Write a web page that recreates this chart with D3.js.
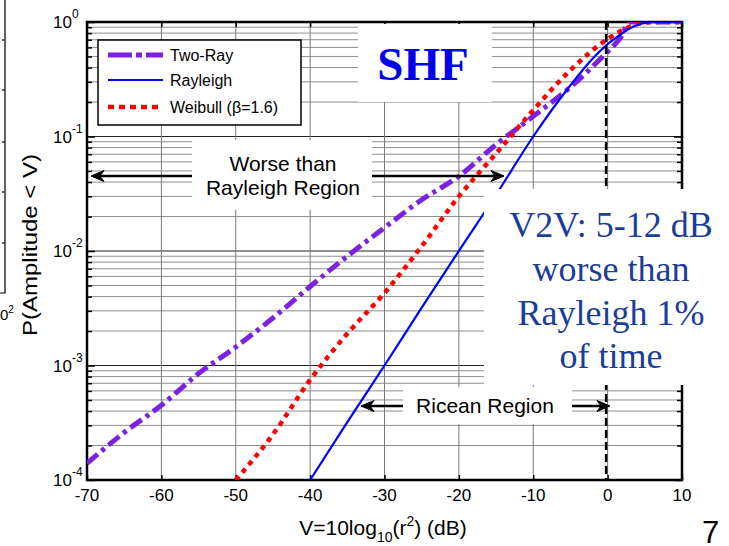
<!DOCTYPE html>
<html>
<head>
<meta charset="utf-8">
<script src="https://cdnjs.cloudflare.com/ajax/libs/d3/7.8.5/d3.min.js"></script>
<style>
  html, body { margin: 0; padding: 0; background: #fff; }
  svg { display: block; font-family: Arial, "Liberation Sans", sans-serif; }
</style>
</head>
<body>
<div id="canvas"></div>
<script>
// ---- DATA ----
var xTicks = [-70, -60, -50, -40, -30, -20, -10, 0, 10];
var yDecades = [1e-4, 1e-3, 1e-2, 1e-1, 1];
var yExponents = ['-4', '-3', '-2', '-1', '0'];

// Two-Ray
var twoV = [-70, -65, -60, -55, -50, -45, -40, -35, -30, -25, -20, -15, -10, -5, 0, 1, 2, 2.6, 3, 10];
var twoP = [1.4e-4, 2.6e-4, 4.5e-4, 8.5e-4, 1.45e-3, 2.6e-3, 4.9e-3, 9e-3, 1.6e-2, 2.8e-2, 4.5e-2, 8.5e-2, 0.15, 0.27, 0.55, 0.64, 0.78, 0.95, 1.0, 1.0];

// Rayleigh
var rayV = [-40, -35, -30, -25, -20, -15, -10, -5, -2, 0, 2, 3, 4, 5, 6, 10];
var rayP = [1e-4, 3.2e-4, 1e-3, 3.2e-3, 1e-2, 3.1e-2, 0.1, 0.28, 0.48, 0.64, 0.8, 0.88, 0.94, 0.98, 0.995, 1.0];

// Weibull (beta = 1.6)
var weiV = [-50, -45, -40, -35, -30, -25, -20, -15, -10, -5, 0, 2, 3, 4, 5, 6, 10];
var weiP = [1e-4, 2.5e-4, 7.5e-4, 1.9e-3, 4.3e-3, 1.1e-2, 3e-2, 7.1e-2, 0.17, 0.38, 0.71, 0.85, 0.91, 0.96, 0.99, 1.0, 1.0];

var seriesNames = ['Two-Ray', 'Rayleigh', 'Weibull (\u03B2=1.6)'];


// ---- CONVENTIONS ----
var W = 729, H = 546;
var pLeft = 87, pRight = 682, pTop = 22, pBottom = 480;

var svg = d3.select('#canvas')
    .append('svg')
    .attr('width', W)
    .attr('height', H);


// ---- SCALES ----
var scaleX = d3.scaleLinear().domain([-70, 10]).range([pLeft, pRight]);
var scaleY = d3.scaleLog().domain([1e-4, 1]).range([pBottom, pTop]);

var minorTicks = [];
yDecades.slice(0, -1).forEach(function(d){
    for (var k = 2; k <= 9; k++) minorTicks.push(d * k);
});


// ---- GRID ----
var grid = svg.append('g');
grid.selectAll('.minor')
    .data(minorTicks).enter()
    .append('line')
    .attr('x1', pLeft).attr('x2', pRight)
    .attr('y1', function(d){ return scaleY(d); })
    .attr('y2', function(d){ return scaleY(d); })
    .style('stroke', '#8e8e8e').style('stroke-width', 1);
grid.selectAll('.major')
    .data(yDecades).enter()
    .append('line')
    .attr('x1', pLeft).attr('x2', pRight)
    .attr('y1', function(d){ return scaleY(d); })
    .attr('y2', function(d){ return scaleY(d); })
    .style('stroke', '#222').style('stroke-width', 1);
grid.selectAll('.vgrid')
    .data(xTicks).enter()
    .append('line')
    .attr('x1', function(d){ return scaleX(d); })
    .attr('x2', function(d){ return scaleX(d); })
    .attr('y1', pTop).attr('y2', pBottom)
    .style('stroke', '#7a7a7a').style('stroke-width', 1);


// ---- AXES ----
var axisL = d3.axisLeft(scaleY).tickValues(yDecades).tickSizeInner(-8).tickSizeOuter(0).tickFormat('');
var axisR = d3.axisRight(scaleY).tickValues(yDecades).tickSizeInner(-8).tickSizeOuter(0).tickFormat('');
var axisB = d3.axisBottom(scaleX).tickValues(xTicks).tickSizeInner(-5).tickSizeOuter(0).tickFormat('');
var axisT = d3.axisTop(scaleX).tickValues(xTicks).tickSizeInner(-5).tickSizeOuter(0).tickFormat('');
var minorL = d3.axisLeft(scaleY).tickValues(minorTicks).tickSizeInner(-5).tickSizeOuter(0).tickFormat('');
var minorR = d3.axisRight(scaleY).tickValues(minorTicks).tickSizeInner(-5).tickSizeOuter(0).tickFormat('');

function styleAxis(g){
    g.select('.domain').remove();
    g.selectAll('line').style('stroke', '#000').style('stroke-width', 1.5);
}
svg.append('g').attr('transform', 'translate(' + pLeft + ',0)').call(axisL).call(styleAxis);
svg.append('g').attr('transform', 'translate(' + pLeft + ',0)').call(minorL).call(styleAxis);
svg.append('g').attr('transform', 'translate(' + pRight + ',0)').call(axisR).call(styleAxis);
svg.append('g').attr('transform', 'translate(' + pRight + ',0)').call(minorR).call(styleAxis);
svg.append('g').attr('transform', 'translate(0,' + pBottom + ')').call(axisB).call(styleAxis);
svg.append('g').attr('transform', 'translate(0,' + pTop + ')').call(axisT).call(styleAxis);

svg.append('rect')
    .attr('x', pLeft).attr('y', pTop)
    .attr('width', pRight - pLeft).attr('height', pBottom - pTop)
    .style('fill', 'none').style('stroke', '#000').style('stroke-width', 2.5);

// tick labels
svg.selectAll('.xlab')
    .data(xTicks).enter()
    .append('text')
    .attr('x', function(d){ return scaleX(d); })
    .attr('y', 501)
    .attr('text-anchor', 'middle')
    .style('font-size', '17px')
    .text(function(d){ return d; });

var ylab = svg.selectAll('.ylab')
    .data(yDecades).enter()
    .append('g');
ylab.append('text')
    .attr('x', 72)
    .attr('y', function(d){ return scaleY(d) + 6; })
    .attr('text-anchor', 'end')
    .style('font-size', '17px')
    .text('10');
ylab.append('text')
    .attr('x', 72)
    .attr('y', function(d){ return scaleY(d) - 4; })
    .style('font-size', '12px')
    .text(function(d, i){ return yExponents[i]; });


// ---- LINES ----
svg.append('clipPath').attr('id', 'plotclip')
    .append('rect')
    .attr('x', pLeft).attr('y', pTop)
    .attr('width', pRight - pLeft).attr('height', pBottom - pTop);

var lineGenerator = d3.line()
    .x(function(d){ return scaleX(d[0]); })
    .y(function(d){ return scaleY(d[1]); })
    .curve(d3.curveMonotoneX);

var lines = svg.append('g').attr('clip-path', 'url(#plotclip)');

lines.append('path')
    .datum(d3.zip(twoV, twoP))
    .attr('d', lineGenerator)
    .style('fill', 'none').style('stroke', '#7b22e2')
    .style('stroke-width', 5).style('stroke-dasharray', '14,5,4,5');

lines.append('path')
    .datum(d3.zip(weiV, weiP))
    .attr('d', lineGenerator)
    .style('fill', 'none').style('stroke', '#ff0000')
    .style('stroke-width', 4.5).style('stroke-dasharray', '5,5');

lines.append('path')
    .datum(d3.zip(rayV, rayP))
    .attr('d', lineGenerator)
    .style('fill', 'none').style('stroke', '#0000ff')
    .style('stroke-width', 2.2);

// V = 0 marker
svg.append('line')
    .attr('x1', scaleX(0) - 1.5).attr('x2', scaleX(0) - 1.5)
    .attr('y1', pTop).attr('y2', pBottom)
    .style('stroke', '#000').style('stroke-width', 2.5)
    .style('stroke-dasharray', '8,4');


// ---- WHITE BOXES (annotations) ----
var boxes = [
    [358, 24, 134, 78],    // SHF
    [192, 140, 180, 70],   // worse than rayleigh
    [484, 189, 245, 196],  // V2V
    [403, 387, 169, 37]    // ricean
];
svg.selectAll('.wbox')
    .data(boxes).enter()
    .append('rect')
    .attr('x', function(d){ return d[0]; })
    .attr('y', function(d){ return d[1]; })
    .attr('width', function(d){ return d[2]; })
    .attr('height', function(d){ return d[3]; })
    .style('fill', '#fff');


// ---- LEGEND ----
var legend = svg.append('g');
legend.append('rect')
    .attr('x', 98).attr('y', 40).attr('width', 203).attr('height', 85)
    .style('fill', '#fff').style('stroke', '#000').style('stroke-width', 1.5);

var legendStyles = [
    {color: '#7b22e2', width: 5, dash: '24,4,6,4'},
    {color: '#0000ff', width: 2.2, dash: null},
    {color: '#ff0000', width: 4.5, dash: '6,5'}
];
var legendY = [55, 80, 107];
seriesNames.forEach(function(name, i){
    legend.append('line')
        .attr('x1', 108).attr('x2', 163)
        .attr('y1', legendY[i]).attr('y2', legendY[i])
        .style('stroke', legendStyles[i].color)
        .style('stroke-width', legendStyles[i].width)
        .style('stroke-dasharray', legendStyles[i].dash);
    legend.append('text')
        .attr('x', 170).attr('y', legendY[i] + 6)
        .style('font-size', '16px')
        .text(name);
});


// ---- TEXT ----
svg.append('text')
    .attr('x', 423).attr('y', 80)
    .attr('text-anchor', 'middle')
    .style('font-family', '"Liberation Serif", "Times New Roman", serif')
    .style('font-weight', 'bold')
    .style('font-size', '47px')
    .style('fill', '#0000ee')
    .text('SHF');

svg.append('text').attr('x', 283).attr('y', 171)
    .attr('text-anchor', 'middle').style('font-size', '21px')
    .text('Worse than');
svg.append('text').attr('x', 283).attr('y', 195)
    .attr('text-anchor', 'middle').style('font-size', '21px')
    .text('Rayleigh Region');

var v2vLines = ['V2V: 5-12 dB', 'worse than', 'Rayleigh 1%', 'of time'];
var v2vY = [237, 281, 325, 368];
svg.selectAll('.v2v')
    .data(v2vLines).enter()
    .append('text')
    .attr('x', 611)
    .attr('y', function(d, i){ return v2vY[i]; })
    .attr('text-anchor', 'middle')
    .style('font-family', '"Liberation Serif", "Times New Roman", serif')
    .style('font-size', '36px')
    .style('fill', '#1c3c9a')
    .text(function(d){ return d; });

svg.append('text').attr('x', 485).attr('y', 413)
    .attr('text-anchor', 'middle').style('font-size', '21px')
    .text('Ricean Region');


// ---- ARROWS ----
function arrow(x0, x1, y){
    var dir = x1 > x0 ? -1 : 1;
    svg.append('line')
        .attr('x1', x0).attr('x2', x1 + dir * 4)
        .attr('y1', y).attr('y2', y)
        .style('stroke', '#000').style('stroke-width', 2.5);
    svg.append('path')
        .attr('d', 'M' + x1 + ',' + y +
                   'L' + (x1 + dir * 13) + ',' + (y - 5.5) +
                   'L' + (x1 + dir * 9) + ',' + y +
                   'L' + (x1 + dir * 13) + ',' + (y + 5.5) + 'Z')
        .style('fill', '#000').style('stroke', '#000').style('stroke-width', 1);
}
arrow(192, 91, 176);
arrow(372, 504, 176);
arrow(403, 361, 406);
arrow(572, 610, 406);


// ---- AXIS TITLES ----
var xt = svg.append('text')
    .attr('x', 383).attr('y', 535)
    .attr('text-anchor', 'middle')
    .style('font-size', '21px');
xt.append('tspan').text('V=10log');
xt.append('tspan').attr('dy', 7).style('font-size', '14px').text('10');
xt.append('tspan').attr('dy', -7).text('(r');
xt.append('tspan').attr('dy', -9).style('font-size', '14px').text('2');
xt.append('tspan').attr('dy', 9).text(') (dB)');

svg.append('text')
    .attr('transform', 'translate(37,245) rotate(-90)')
    .attr('text-anchor', 'middle')
    .attr('textLength', 182)
    .attr('lengthAdjust', 'spacingAndGlyphs')
    .style('font-size', '20px')
    .text('P(Amplitude < V)');

svg.append('text')
    .attr('x', 702).attr('y', 543)
    .style('font-size', '31px')
    .text('7');


// ---- CROPPED NEIGHBOUR FIGURE (left edge) ----
var edgeTicks = [40, 90, 142, 192, 243];
svg.append('path')
    .attr('d', 'M5,0 L5,293 L0,293')
    .style('fill', 'none').style('stroke', '#000').style('stroke-width', 1.2);
svg.selectAll('.edgetick')
    .data(edgeTicks).enter()
    .append('line')
    .attr('x1', 2).attr('x2', 5)
    .attr('y1', function(d){ return d; })
    .attr('y2', function(d){ return d; })
    .style('stroke', '#000').style('stroke-width', 1.2);
var et = svg.append('text').attr('x', 0).attr('y', 320).style('font-size', '15px');
et.append('tspan').text('0');
et.append('tspan').attr('dy', -7).style('font-size', '10px').text('2');
</script>
</body>
</html>
